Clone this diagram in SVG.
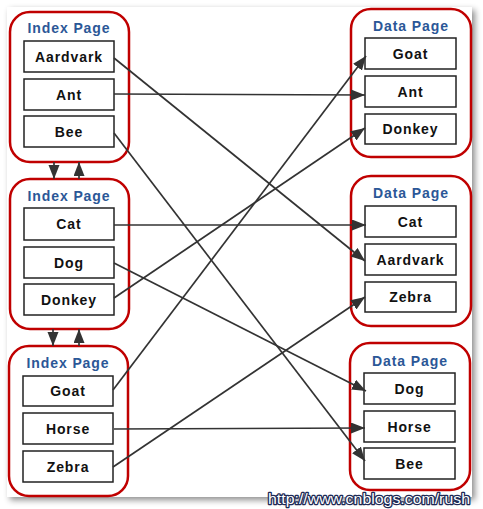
<svg xmlns="http://www.w3.org/2000/svg" width="483" height="509" viewBox="0 0 483 509">
<defs>
<filter id="sh" x="-10%" y="-10%" width="120%" height="120%">
<feGaussianBlur in="SourceAlpha" stdDeviation="3"/>
<feOffset dx="3" dy="3" result="b"/>
<feFlood flood-color="#000" flood-opacity="0.45"/>
<feComposite in2="b" operator="in"/>
<feMerge><feMergeNode/><feMergeNode in="SourceGraphic"/></feMerge>
</filter>
<marker id="ah" markerUnits="userSpaceOnUse" markerWidth="15" markerHeight="12" refX="14" refY="5.5" orient="auto">
<path d="M0,0 L14,5.5 L0,11 Z" fill="#333"/>
</marker>
</defs>
<style>
.grp{fill:#fff;stroke:#c00000;stroke-width:2.5}
.box{fill:#fff;stroke:#222;stroke-width:1.5}
.ttl{font-family:"Liberation Sans",Arial,sans-serif;font-size:14px;font-weight:bold;fill:#2b5797;letter-spacing:0.9px;text-anchor:middle}
.lbl{font-family:"Liberation Sans",Arial,sans-serif;font-size:14px;font-weight:bold;fill:#111;letter-spacing:0.9px;text-anchor:middle}
.con{stroke:#333;stroke-width:1.7;fill:none;marker-end:url(#ah)}
.wm{font-family:"Liberation Sans",Arial,sans-serif;font-size:15px;fill:#fff;stroke:#1d2a55;stroke-width:2.5;paint-order:stroke;stroke-linejoin:round}
</style>
<rect width="483" height="509" fill="#fff"/>
<rect x="7" y="7" width="465" height="490" fill="#fff" filter="url(#sh)"/>

<g id="index1">
<rect class="grp" x="10" y="12" width="119" height="150" rx="20"/>
<text class="ttl" x="69" y="33">Index Page</text>
<rect class="box" x="24" y="41" width="90" height="31"/><text class="lbl" x="69" y="61.5">Aardvark</text>
<rect class="box" x="24" y="79" width="90" height="31"/><text class="lbl" x="69" y="99.5">Ant</text>
<rect class="box" x="24" y="116" width="90" height="31"/><text class="lbl" x="69" y="136.5">Bee</text>
</g>
<g id="index2">
<rect class="grp" x="10" y="179" width="119" height="150" rx="20"/>
<text class="ttl" x="69" y="201">Index Page</text>
<rect class="box" x="24" y="208" width="90" height="32"/><text class="lbl" x="69" y="229">Cat</text>
<rect class="box" x="24" y="247" width="90" height="31"/><text class="lbl" x="69" y="267.5">Dog</text>
<rect class="box" x="24" y="284" width="90" height="31"/><text class="lbl" x="69" y="304.5">Donkey</text>
</g>
<g id="index3">
<rect class="grp" x="9" y="346" width="119" height="150" rx="20"/>
<text class="ttl" x="68" y="368">Index Page</text>
<rect class="box" x="23" y="376" width="90" height="30"/><text class="lbl" x="68" y="396">Goat</text>
<rect class="box" x="23" y="413" width="90" height="31"/><text class="lbl" x="68" y="433.5">Horse</text>
<rect class="box" x="23" y="451" width="90" height="31"/><text class="lbl" x="68" y="471.5">Zebra</text>
</g>

<g id="data1">
<rect class="grp" x="351" y="9" width="120" height="148" rx="20"/>
<text class="ttl" x="411" y="31">Data Page</text>
<rect class="box" x="365" y="38" width="91" height="31"/><text class="lbl" x="410.5" y="58.5">Goat</text>
<rect class="box" x="365" y="76" width="91" height="31"/><text class="lbl" x="410.5" y="96.5">Ant</text>
<rect class="box" x="365" y="114" width="91" height="30"/><text class="lbl" x="410.5" y="134">Donkey</text>
</g>
<g id="data2">
<rect class="grp" x="351" y="176" width="120" height="150" rx="20"/>
<text class="ttl" x="411" y="198">Data Page</text>
<rect class="box" x="365" y="206" width="91" height="31"/><text class="lbl" x="410.5" y="226.5">Cat</text>
<rect class="box" x="365" y="244" width="91" height="31"/><text class="lbl" x="410.5" y="264.5">Aardvark</text>
<rect class="box" x="365" y="282" width="91" height="30"/><text class="lbl" x="410.5" y="302">Zebra</text>
</g>
<g id="data3">
<rect class="grp" x="350" y="343" width="120" height="147" rx="20"/>
<text class="ttl" x="410" y="366">Data Page</text>
<rect class="box" x="364" y="373" width="91" height="31"/><text class="lbl" x="409.5" y="393.5">Dog</text>
<rect class="box" x="364" y="411" width="91" height="31"/><text class="lbl" x="409.5" y="431.5">Horse</text>
<rect class="box" x="364" y="448" width="91" height="31"/><text class="lbl" x="409.5" y="468.5">Bee</text>
</g>

<g id="connectors">
<line class="con" x1="54" y1="162" x2="54" y2="179"/>
<line class="con" x1="79" y1="179" x2="79" y2="162"/>
<line class="con" x1="53" y1="329" x2="53" y2="346"/>
<line class="con" x1="79" y1="346" x2="79" y2="329"/>
<line class="con" x1="114" y1="58" x2="365" y2="261"/>
<line class="con" x1="114" y1="94" x2="365" y2="95"/>
<line class="con" x1="114" y1="133" x2="365" y2="461"/>
<line class="con" x1="114" y1="225" x2="366" y2="225"/>
<line class="con" x1="114" y1="263" x2="366" y2="391"/>
<line class="con" x1="114" y1="298" x2="365" y2="128"/>
<line class="con" x1="113" y1="390" x2="366" y2="56"/>
<line class="con" x1="114" y1="429" x2="365" y2="428"/>
<line class="con" x1="113" y1="467" x2="365" y2="297"/>
</g>

<text class="wm" x="268" y="504" textLength="202" lengthAdjust="spacingAndGlyphs">http://www.cnblogs.com/rush</text>
</svg>
